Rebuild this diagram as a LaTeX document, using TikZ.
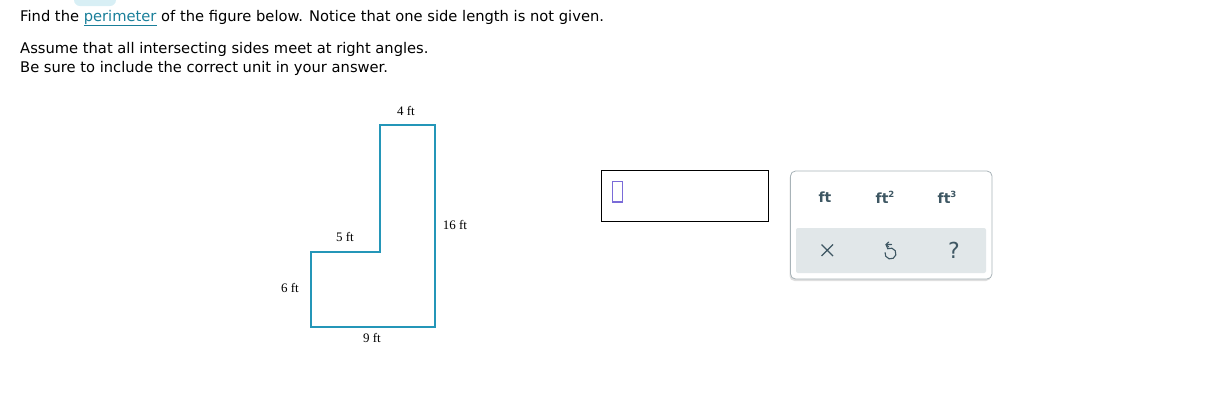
\documentclass[tikz,border=0pt]{standalone}
\usepackage{fontspec}
\setmainfont{DejaVu Sans}
\newfontfamily\serifft{Liberation Serif}
\usetikzlibrary{shadows}
\definecolor{shapeblue}{HTML}{2496B8}
\definecolor{linkteal}{HTML}{1A7F9A}
\definecolor{unitgray}{HTML}{3E5763}
\definecolor{panelfill}{HTML}{E1E7E9}
\definecolor{panelborder}{HTML}{A8B3B8}
\definecolor{cursorpurple}{HTML}{7A6BD8}
\definecolor{tabcyan}{HTML}{D8EFF5}
\tikzset{
  qtext/.style={anchor=base west, inner sep=0pt, font=\fontsize{14.7}{17}\selectfont, text=black},
  dimlabel/.style={inner sep=0pt, font=\serifft\fontsize{13}{15}\selectfont},
  unitlabel/.style={inner sep=0pt, font=\fontsize{14}{16}\selectfont\bfseries, text=unitgray},
  figline/.style={draw=shapeblue, line width=2pt, line join=miter},
}
\begin{document}
\begin{tikzpicture}[x=1pt,y=-1pt]
\useasboundingbox (0,0) rectangle (1226,408);
% top tab remnant
\fill[tabcyan, rounded corners=6pt] (74,-10) rectangle (116,6);
% question text
\node[qtext] (q1) at (20,21) {Find the \textcolor{linkteal}{\underline{perimeter}} of the figure below. Notice that one side length is not given.};
\node[qtext] (q2) at (20,53) {Assume that all intersecting sides meet at right angles.};
\node[qtext] (q3) at (20,72) {Be sure to include the correct unit in your answer.};
% figure
\coordinate (A) at (380,125);
\coordinate (B) at (435,125);
\coordinate (C) at (435,327);
\coordinate (D) at (311,327);
\coordinate (E) at (311,252);
\coordinate (F) at (380,252);
\draw[figline] (A) -- (B) -- (C) -- (D) -- (E) -- (F) -- cycle;
\node[dimlabel] (l4) at (406,111) {4 ft};
\node[dimlabel] (l16) at (455,225) {16 ft};
\node[dimlabel] (l5) at (345,237) {5 ft};
\node[dimlabel] (l6) at (290,288) {6 ft};
\node[dimlabel] (l9) at (372,338) {9 ft};
% answer box
\draw[black, line width=1pt] (601,170) rectangle (768,221);
\draw[cursorpurple, line width=1.3pt] (612.5,181.5) rectangle (622.5,202);
% unit panel
\draw[panelborder, line width=0.8pt, fill=white, rounded corners=5pt, drop shadow={shadow xshift=-1pt, shadow yshift=-2pt, opacity=0.25, fill=gray}] (790.5,171) rectangle (992,279);
\fill[panelfill, rounded corners=2pt] (796,228) rectangle (986,273);
\node[unitlabel] (u1) at (825,197) {ft};
\node[unitlabel] (u2) at (885,197) {ft\raisebox{0.45em}{\fontsize{8.5}{9}\selectfont 2}};
\node[unitlabel] (u3) at (947,197) {ft\raisebox{0.45em}{\fontsize{8.5}{9}\selectfont 3}};
% clear x
\draw[unitgray, line width=1.2pt] (821.5,244.5) -- (833,256) (833,244.5) -- (821.5,256);
% undo arrow
\coordinate (uc) at (890.5,253.5);
\draw[unitgray, line width=1.1pt, line cap=round, line join=round] ([shift={(-120:5.5)}]uc) arc[start angle=-120, end angle=190, radius=5.5];
\draw[unitgray, line width=1.1pt, line cap=round, line join=round] ([shift={(-120:5.5)}]uc) -- (886,244.5) -- (891.5,244.5);
\draw[unitgray, line width=1.1pt, line cap=round, line join=round] (888.8,242) -- (886,244.5) -- (888.8,247);
% help
\node[inner sep=0pt, font=\fontsize{22}{24}\selectfont, text=unitgray] (help) at (954,250) {?};
\end{tikzpicture}
\end{document}
